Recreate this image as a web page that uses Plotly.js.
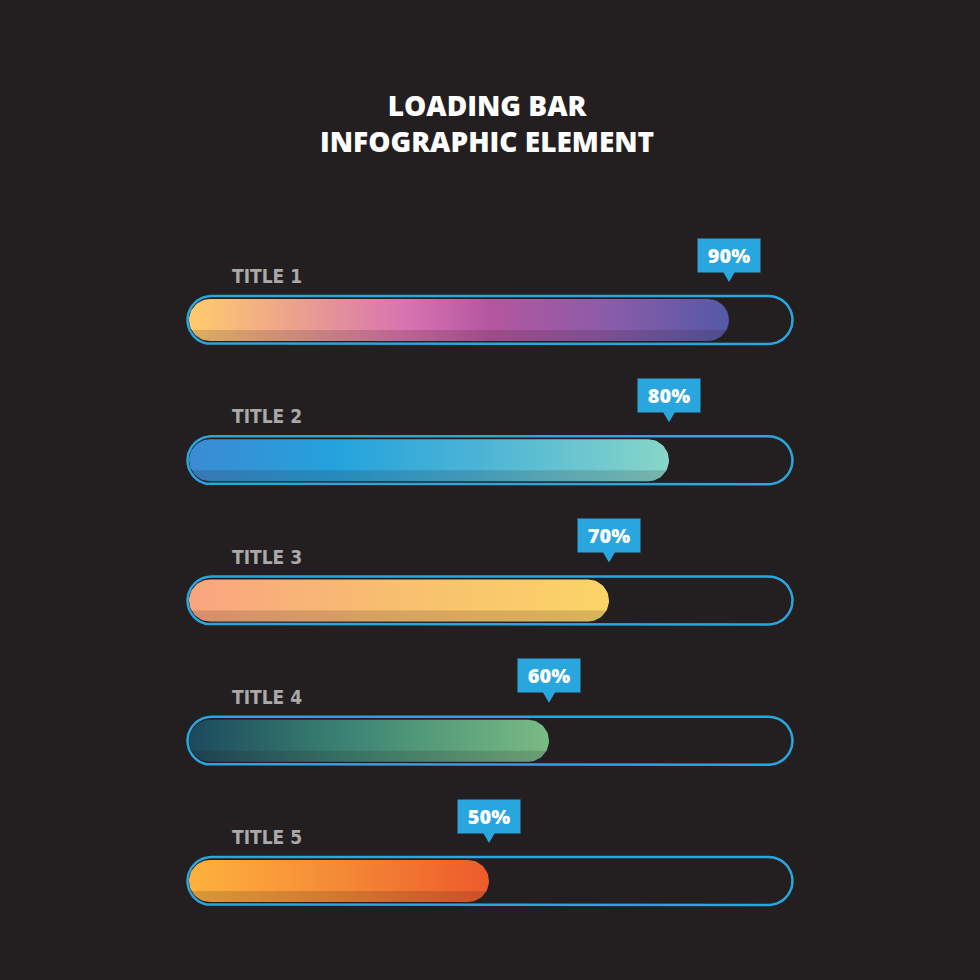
<!DOCTYPE html>
<html>
<head>
<meta charset="utf-8">
<script src="https://cdn.plot.ly/plotly-3.0.1.min.js"></script>
<style>html,body{margin:0;padding:0;background:#231f20;}#chart{width:980px;height:980px;}</style>
</head>
<body>
<div id="chart"></div>
<script>
// ---- data ----
const categories = ['TITLE 1', 'TITLE 2', 'TITLE 3', 'TITLE 4', 'TITLE 5'];
const values = [90, 80, 70, 60, 50];
const valueLabels = ['90%', '80%', '70%', '60%', '50%'];
const chartTitle = 'LOADING BAR<br>INFOGRAPHIC ELEMENT';

// ---- styles ----
const gradients = [
  [[0, '#ffcc6c'], [0.18, '#eda58b'], [0.4, '#d774b0'], [0.56, '#b4569f'], [0.78, '#8a5ca9'], [1, '#5459a7']],
  [[0, '#3b8bd3'], [0.3, '#24a2dd'], [0.6, '#4ab4d6'], [1, '#88d6c8']],
  [[0, '#f9a580'], [0.45, '#f8bd70'], [1, '#fbd467']],
  [[0, '#1b4a5c'], [0.45, '#3c8573'], [1, '#7abb85']],
  [[0, '#feb23e'], [0.5, '#f48a36'], [1, '#ee5a2b']]
];
const bg = '#231f20';
const accent = '#29a6de';
const W = 980, H = 980;
const X0PX = 189, X100PX = 789;          // pixel span of 0..100 %
const PX = (X100PX - X0PX) / 100;         // px per percent
const rowTop = 320, rowStep = 140.25;    // row centre layout (pixel units on y)

const xr = [-X0PX / PX, (W - X0PX) / PX];

function stadium(x0, x1, cy, h, clipY) {
  const rx = h / PX;
  const xs = [], ys = [];
  const n = 30;
  for (let i = 0; i <= n; i++) {
    const a = -Math.PI / 2 + Math.PI * i / n;
    xs.push(x1 - rx + rx * Math.cos(a));
    ys.push(cy + h * Math.sin(a));
  }
  for (let i = 0; i <= n; i++) {
    const a = Math.PI / 2 + Math.PI * i / n;
    xs.push(x0 + rx + rx * Math.cos(a));
    ys.push(cy + h * Math.sin(a));
  }
  xs.push(xs[0]); ys.push(ys[0]);
  if (clipY !== undefined) {
    for (let i = 0; i < ys.length; i++) ys[i] = Math.max(ys[i], clipY);
  }
  return {x: xs, y: ys};
}

const traces = [];
const annotations = [];
categories.forEach((cat, i) => {
  const cy = rowTop + i * rowStep;
  const v = values[i];
  // track outline
  const tr = stadium(-0.25, 100.58, cy, 24);
  traces.push({x: tr.x, y: tr.y, mode: 'lines', line: {color: accent, width: 2.5},
    hoverinfo: 'skip', showlegend: false});
  // gradient fill
  const f = stadium(0, v, cy, 21);
  traces.push({x: f.x, y: f.y, mode: 'lines', fill: 'toself', line: {width: 0, color: 'rgba(0,0,0,0)'},
    fillgradient: {type: 'horizontal', colorscale: gradients[i]},
    name: cat, hovertemplate: cat + ': ' + valueLabels[i] + '<extra></extra>', showlegend: false});
  // bottom shade (3D effect)
  const s = stadium(0, v, cy, 21, cy + 10);
  traces.push({x: s.x, y: s.y, mode: 'lines', fill: 'toself', line: {width: 0, color: 'rgba(0,0,0,0)'},
    fillcolor: 'rgba(40,20,20,0.16)', hoverinfo: 'skip', showlegend: false});
  // callout pointer
  const tw = 7 / PX;
  traces.push({x: [v - tw, v + tw, v, v - tw], y: [cy - 50, cy - 50, cy - 38, cy - 50],
    mode: 'lines', fill: 'toself', fillcolor: accent, line: {width: 0, color: accent},
    hoverinfo: 'skip', showlegend: false});
  // callout label
  annotations.push({x: v, y: cy - 65, xref: 'x', yref: 'y', text: valueLabels[i],
    showarrow: false, bgcolor: accent, width: 62, height: 33, borderpad: 0,
    font: {family: 'Open Sans, Inter, sans-serif', size: 20, color: '#ffffff', weight: 800},
    xanchor: 'center', yanchor: 'middle', align: 'center', valign: 'middle'});
  // row title
  annotations.push({x: (230 - X0PX) / PX, y: cy - 44, xref: 'x', yref: 'y', text: cat,
    showarrow: false, xanchor: 'left', yanchor: 'middle',
    font: {family: 'DejaVu Sans Condensed, sans-serif', size: 19, color: '#a9a9a9', weight: 'bold'}});
});

const layout = {
  width: W, height: H,
  paper_bgcolor: bg, plot_bgcolor: bg,
  margin: {l: 0, r: 0, t: 0, b: 0},
  title: {text: chartTitle, x: 0.497, xanchor: 'center', y: 1 - 116 / H, yanchor: 'middle', yref: 'container',
    font: {family: 'Open Sans, Inter, sans-serif', size: 28, color: '#ffffff', weight: 800}},
  xaxis: {range: xr, visible: false, fixedrange: true},
  yaxis: {range: [H, 0], visible: false, fixedrange: true},
  annotations: annotations,
  showlegend: false,
  hovermode: 'closest'
};

Plotly.newPlot('chart', traces, layout, {displayModeBar: false, staticPlot: false});
</script>
</body>
</html>
